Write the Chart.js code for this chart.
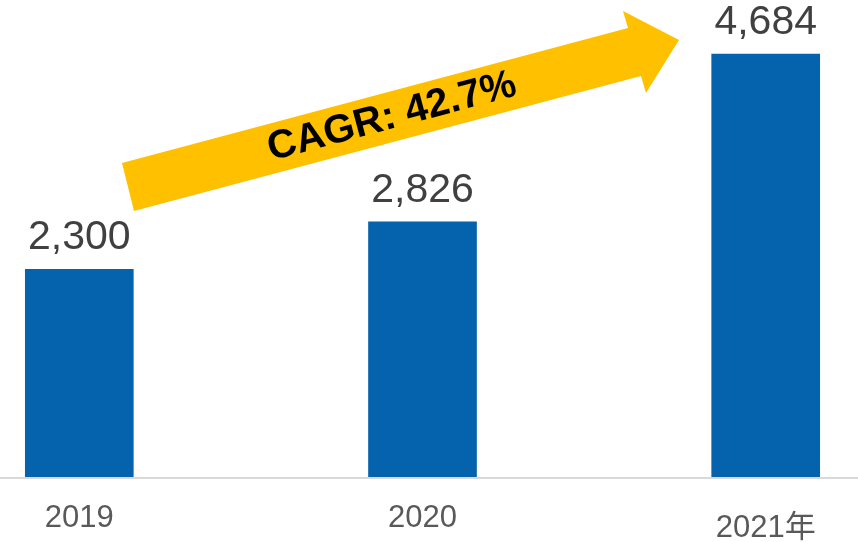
<!DOCTYPE html>
<html>
<head>
<meta charset="utf-8">
<script src="https://cdn.jsdelivr.net/npm/chart.js@4/dist/chart.umd.min.js"></script>
<style>
  html, body { margin: 0; padding: 0; background: #fff; }
  #wrap { width: 858px; height: 542px; position: relative; }
</style>
</head>
<body>
<div id="wrap"><canvas id="chart"></canvas></div>
<script>
const years = ['2019', '2020', '2021年']
const sales = [2300, 2826, 4684]
const cagrText = 'CAGR: 42.7%'

const FONT = '"Liberation Sans", Arial, "Noto Sans CJK SC", sans-serif'

// baseline, year labels and value labels
const labelsPlugin = {
  id: 'labels',
  afterDatasetsDraw(chart) {
    const { ctx, scales } = chart
    const y0 = scales.y.getPixelForValue(0)

    ctx.save()
    ctx.strokeStyle = '#d9d9d9'
    ctx.lineWidth = 2
    ctx.beginPath()
    ctx.moveTo(0, y0 + 1)
    ctx.lineTo(chart.width, y0 + 1)
    ctx.stroke()

    ctx.textAlign = 'center'
    ctx.textBaseline = 'alphabetic'
    const meta = chart.getDatasetMeta(0)
    meta.data.forEach((bar, i) => {
      ctx.fillStyle = '#404040'
      ctx.font = '41px ' + FONT
      ctx.fillText(sales[i].toLocaleString('en-US'), bar.x, bar.y - 20)

      ctx.fillStyle = '#595959'
      ctx.font = '31px ' + FONT
      const isCjk = /[^\x00-\x7f]/.test(years[i])
      ctx.fillText(years[i], scales.x.getPixelForValue(i), isCjk ? 537 : 527)
    })
    ctx.restore()
  }
}

// yellow CAGR arrow
const arrowPlugin = {
  id: 'arrow',
  afterDraw(chart) {
    const { ctx } = chart
    const pts = [[122, 163], [628, 28], [623, 11], [679, 40], [646, 93], [641, 76], [134, 211]]
    ctx.save()
    ctx.fillStyle = '#ffc000'
    ctx.beginPath()
    pts.forEach(([x, y], i) => i ? ctx.lineTo(x, y) : ctx.moveTo(x, y))
    ctx.closePath()
    ctx.fill()

    ctx.translate(392, 117)
    ctx.rotate(Math.atan2(28 - 163, 628 - 122))
    ctx.fillStyle = '#000'
    ctx.font = 'bold 40px ' + FONT
    ctx.textAlign = 'center'
    ctx.textBaseline = 'middle'
    ctx.fillText(cagrText, 0, 0)
    ctx.restore()
  }
}

new Chart(document.getElementById('chart'), {
  type: 'bar',
  data: {
    labels: years,
    datasets: [{
      data: sales,
      backgroundColor: '#0563ae',
      borderWidth: 0,
      barThickness: 108,
      clip: false
    }]
  },
  options: {
    responsive: true,
    maintainAspectRatio: false,
    animation: false,
    layout: {
      padding: { left: 79.3, right: 92.3, top: 25.5, bottom: 65 }
    },
    plugins: {
      legend: { display: false },
      tooltip: { enabled: false }
    },
    scales: {
      x: {
        display: false,
        offset: false
      },
      y: {
        display: false,
        min: 0,
        max: 5000
      }
    }
  },
  plugins: [labelsPlugin, arrowPlugin]
})
</script>
</body>
</html>
